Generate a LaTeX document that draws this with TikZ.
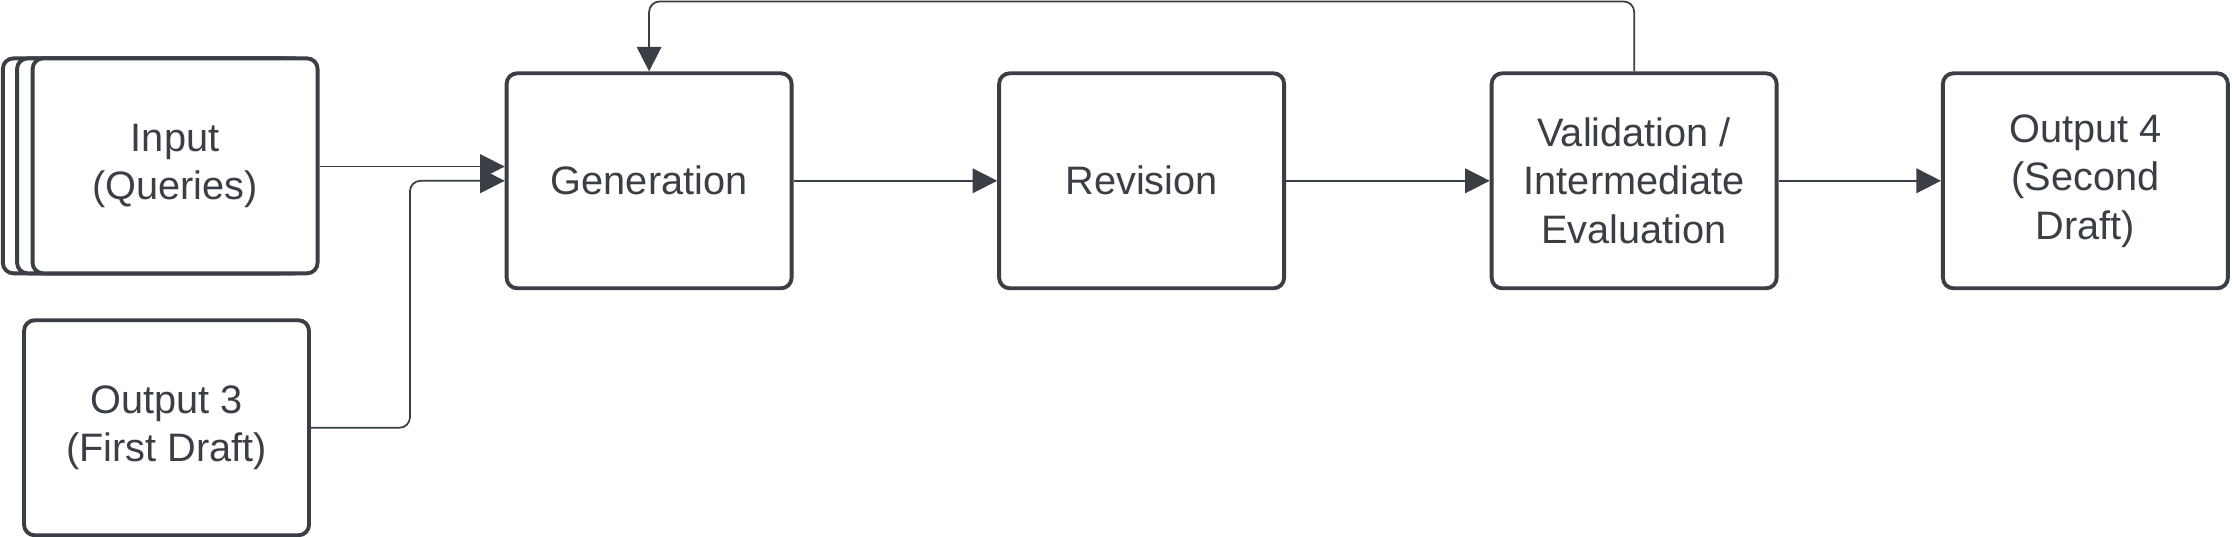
\documentclass[tikz,border=0pt]{standalone}
\usepackage{fontspec}
\setmainfont{Liberation Sans}
\usetikzlibrary{arrows.meta}
\definecolor{ink}{HTML}{3A3F46}
\tikzset{
  box/.style={draw=ink, line width=1.1pt, rounded corners=3pt, fill=white,
    minimum width=2.85cm, minimum height=2.15cm, align=center, text=ink,
    font=\fontsize{11.3}{13.8}\selectfont, inner sep=0pt},
  flow/.style={draw=ink, line width=0.5pt, -{Triangle[length=7pt,width=7pt]}, rounded corners=3pt},
}
\begin{document}
\begin{tikzpicture}[x=0.014235cm, y=-0.014235cm]
\useasboundingbox (0,0) rectangle (1568,377);
% stacked input
\draw[draw=ink, line width=1.1pt, rounded corners=3pt, fill=white] (2,41) rectangle (204,192);
\draw[draw=ink, line width=1.1pt, rounded corners=3pt, fill=white] (12,41) rectangle (214,192);
\node[box] (input) at (123,116.5) {Input\\(Queries)};
\node[box] (out3) at (117,300.5) {Output 3\\(First Draft)};
\node[box] (gen) at (456,127) {Generation};
\node[box] (rev) at (802,127) {Revision};
\node[box] (val) at (1148,127) {Validation /\\Intermediate\\Evaluation};
\node[box] (out4) at (1465,127) {Output 4\\(Second\\Draft)};
% connectors
\draw[flow] (input.east |- 0,117) -- (gen.west |- 0,117);
\draw[flow] (out3.east) -- (288,300.5) -- (288,127) -- (gen.west);
\draw[flow] (gen) -- (rev);
\draw[flow] (rev) -- (val);
\draw[flow] (val) -- (out4);
\draw[flow] (val.north) -- (1148,1) -- (456,1) -- (gen.north);
\end{tikzpicture}
\end{document}
